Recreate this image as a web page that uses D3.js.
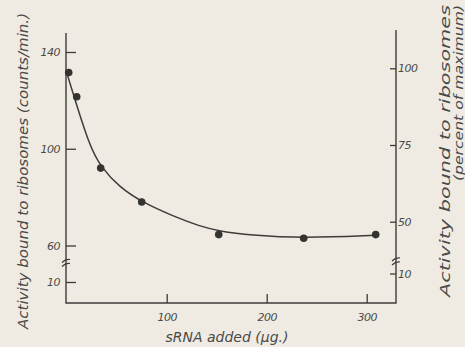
<!DOCTYPE html>
<html>
<head>
<script src="https://cdn.jsdelivr.net/npm/d3@7"></script>
<style>
  body { margin: 0; background: #efebe2; }
  svg { display: block; }
  text { font-family: "DejaVu Sans", sans-serif; font-style: italic; fill: #4a4a48; }
  .tick text { font-size: 11px; letter-spacing: -0.5px; }
  .axis path, .axis line { stroke: #3c3c3a; stroke-width: 1.3; }
</style>
</head>
<body>
<div id="chart"></div>
<script>
// data
var sRNA = [2, 10, 34, 75, 152, 237, 309];
var counts = [131.5, 121.5, 92, 78, 64.5, 63, 64.5];
// hand-drawn fit line
var fitX = [0, 7, 23, 34, 53, 75, 107, 133, 152, 183, 237, 309];
var fitY = [131.5, 122, 101, 92.5, 84, 78, 72, 68, 66, 64.2, 63, 64.2];
var leftTicks = [10, 60, 100, 140];
var rightTicks = [10, 50, 75, 100];
var xTicks = [100, 200, 300];

var width = 465, height = 347;
var svg = d3.select('#chart').append('svg')
  .attr('width', width).attr('height', height);

var x = d3.scaleLinear().domain([0, 300]).range([66.7, 366.7]);
// broken axes -> polylinear scales
var yL = d3.scaleLinear().domain([10, 60, 140]).range([282, 245.5, 52]);
var yR = d3.scaleLinear().domain([10, 50, 100]).range([273.5, 221.7, 68.3]);

var left = 66, right = 396, bottom = 303;
var ink = '#3c3c3a';

// axis lines
svg.append('path')
  .attr('d', 'M' + left + ',33V' + bottom + 'H' + right + 'V30')
  .attr('fill', 'none').attr('stroke', ink).attr('stroke-width', 1.4);

// left axis
var gL = svg.append('g').attr('class', 'axis').attr('transform', 'translate(' + left + ',0)')
  .call(d3.axisRight(yL).tickValues(leftTicks).tickSize(10).tickFormat(d3.format('d')));
gL.select('.domain').remove();
gL.selectAll('.tick text').attr('x', -6).attr('text-anchor', 'end');

// right axis
var gR = svg.append('g').attr('class', 'axis').attr('transform', 'translate(' + right + ',0)')
  .call(d3.axisLeft(yR).tickValues(rightTicks).tickSize(6).tickFormat(d3.format('d')));
gR.select('.domain').remove();
gR.selectAll('.tick text').attr('x', 2).attr('text-anchor', 'start');

// bottom axis
var gB = svg.append('g').attr('class', 'axis').attr('transform', 'translate(0,' + bottom + ')')
  .call(d3.axisTop(x).tickValues(xTicks).tickSize(9));
gB.select('.domain').remove();
gB.selectAll('.tick text').attr('y', 18).attr('dy', 0);

// axis breaks
function brk(xp, yp) {
  [-2, 2].forEach(function(o) {
    svg.append('path')
      .attr('d', 'M' + (xp - 4) + ',' + (yp + o + 1.5) + 'Q' + xp + ',' + (yp + o - 2.5) + ' ' + (xp + 4) + ',' + (yp + o - 1.5))
      .attr('fill', 'none').attr('stroke', ink).attr('stroke-width', 1.2);
  });
}
brk(left, 263);
brk(right, 261.5);

// fitted curve
var line = d3.line()
  .x(function(d, i) { return x(fitX[i]); })
  .y(function(d) { return yL(d); })
  .curve(d3.curveBasis);
svg.append('path').datum(fitY)
  .attr('d', line).attr('fill', 'none').attr('stroke', ink).attr('stroke-width', 1.5);

// points
svg.selectAll('circle.pt').data(sRNA).enter().append('circle')
  .attr('class', 'pt')
  .attr('cx', function(d) { return x(d); })
  .attr('cy', function(d, i) { return yL(counts[i]); })
  .attr('r', 3.8).attr('fill', '#333331');

// titles
svg.append('text')
  .attr('transform', 'translate(23,171) rotate(-90)')
  .attr('text-anchor', 'middle').attr('dy', '0.35em')
  .attr('textLength', 316).attr('lengthAdjust', 'spacingAndGlyphs')
  .style('font-size', '14px')
  .text('Activity bound to ribosomes (counts/min.)');

svg.append('text')
  .attr('transform', 'translate(445,151) rotate(-90)')
  .attr('text-anchor', 'middle').attr('dy', '0.35em')
  .attr('textLength', 292).attr('lengthAdjust', 'spacingAndGlyphs')
  .style('font-size', '14.5px')
  .text('Activity bound to ribosomes');

svg.append('text')
  .attr('transform', 'translate(458,93) rotate(-90)')
  .attr('text-anchor', 'middle').attr('dy', '0.35em')
  .attr('textLength', 176).attr('lengthAdjust', 'spacingAndGlyphs')
  .style('font-size', '13px')
  .text('(percent of maximum)');

svg.append('text')
  .attr('x', 227).attr('y', 342)
  .attr('text-anchor', 'middle')
  .style('font-size', '14px')
  .text('sRNA added (\u03bcg.)');
</script>
</body>
</html>
